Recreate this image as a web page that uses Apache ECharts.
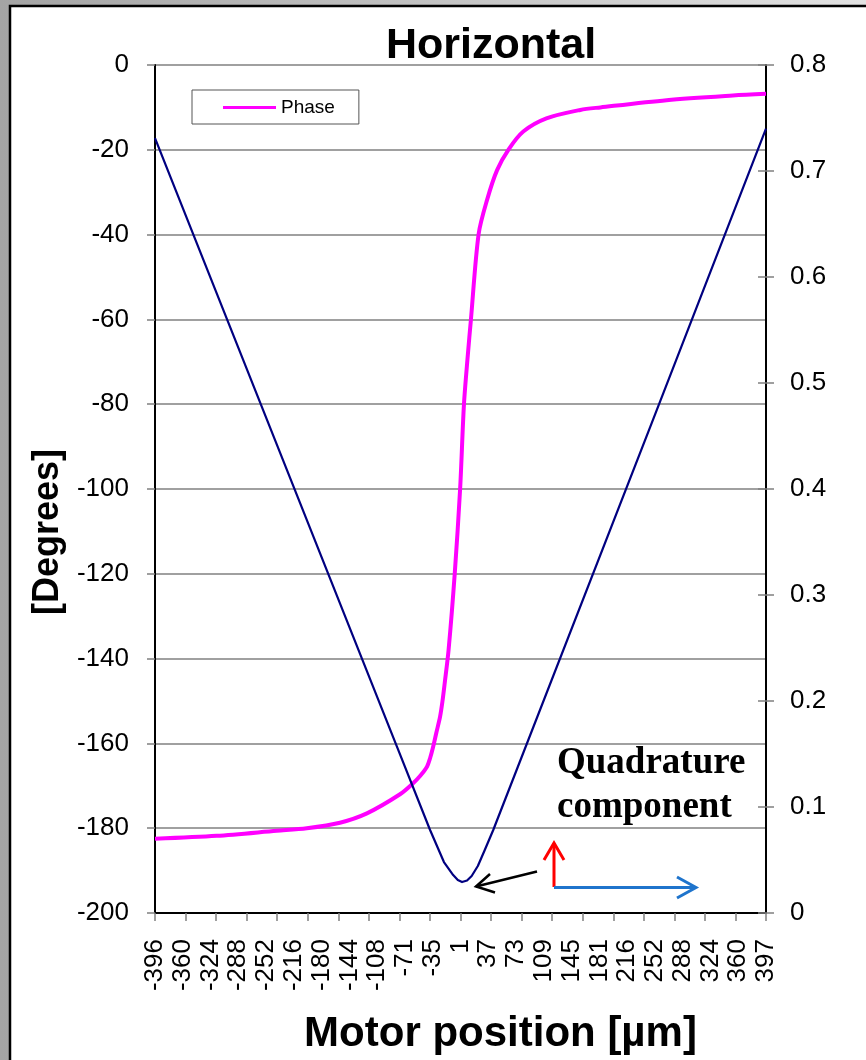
<!DOCTYPE html>
<html>
<head>
<meta charset="utf-8">
<script src="https://cdn.jsdelivr.net/npm/echarts@6/dist/echarts.min.js"></script>
<style>html,body{margin:0;padding:0;}#c{width:866px;height:1060px;}</style>
</head>
<body>
<div id="c"></div>
<script>
// x tick labels (motor position, µm)
var xTickLabels = ['-396','-360','-324','-288','-252','-216','-180','-144','-108','-71','-35','1','37','73','109','145','181','216','252','288','324','360','397'];
// Phase series (degrees, left axis)
var phaseX = [-396,-316,-238,-199,-156,-121,-78,-61,-52,-43,-39,-35,-31,-26,-23,-20,-15,-7,0,5,10,14,24,35,48,63,82,112,156,182,268,354,397];
var phaseY = [-182.5,-181.8,-180.6,-180.0,-178.7,-176.5,-172.0,-169.4,-167.7,-165.5,-163.5,-160.8,-157.6,-153.7,-150.2,-145.8,-138,-120.0,-100,-80,-68.4,-60.1,-39.9,-31.8,-24.8,-19.9,-15.7,-12.6,-10.6,-10.0,-8.3,-7.2,-6.8];
// Quadrature component (right axis)
var quadX = [-396,-82,-39,-21,-9,-3,2.5,9,15,23,32,43,247,397];
var quadY = [0.731,0.157,0.0783,0.0481,0.0358,0.0311,0.0292,0.0307,0.0349,0.0443,0.0594,0.0783,0.459,0.740];
// axis ranges
var leftTicks = {min:-200, max:0, step:20};
var rightTicks = {min:0, max:0.8, step:0.1};

function pairs(xs, ys){ return xs.map(function(x,i){ return [x, ys[i]]; }); }

var chart = echarts.init(document.getElementById('c'));
var SANS = 'Liberation Sans, Arial, sans-serif';
var SERIF = 'Liberation Serif, Times New Roman, serif';

chart.setOption({
  animation: false,
  backgroundColor: {type:'linear', x:0, y:0, x2:1, y2:0, colorStops:[{offset:0,color:'#a4a4a4'},{offset:1,color:'#e2e2e2'}]},
  title: {
    text: 'Horizontal', left: 386, top: 25, padding: 0,
    textStyle: {fontFamily: SANS, fontWeight: 'bold', fontSize: 43, color: '#000'}
  },
  legend: {
    data: [{name:'Phase', icon:'rect'}],
    left: 192, top: 90,
    padding: [8, 24, 7, 31],
    itemWidth: 53, itemHeight: 3, itemGap: 5,
    borderColor: '#555', borderWidth: 1, backgroundColor: '#fff',
    textStyle: {fontFamily: SANS, fontSize: 19, color: '#000'}
  },
  grid: {left: 155, right: 100, top: 65, bottom: 147, containLabel: false},
  xAxis: [
    { // label axis
      type: 'value', min: 0, max: xTickLabels.length - 1, interval: 1, position: 'bottom',
      axisLine: {show: true, onZero: false, lineStyle: {color: '#000', width: 2}},
      axisTick: {show: false}, splitLine: {show: false},
      axisLabel: {rotate: 90, margin: 26, fontFamily: SANS, fontSize: 26, color: '#000',
        formatter: function(v){ return xTickLabels[Math.round(v)] || ''; }},
      name: 'Motor position [µm]', nameLocation: 'middle', nameGap: 100,
      nameTextStyle: {fontFamily: SANS, fontWeight: 'bold', fontSize: 42, color: '#000', padding: [0, 0, 0, 80]}
    },
    { // tick axis
      type: 'value', min: 0, max: 20, interval: 1, position: 'bottom',
      axisLine: {show: false, onZero: false}, axisLabel: {show: false}, splitLine: {show: false},
      axisTick: {show: true, length: 8, lineStyle: {color: '#808080', width: 1.5}}
    },
    { // data axis
      type: 'value', min: -396, max: 397, show: false, position: 'top',
      axisLine: {onZero: false}
    }
  ],
  yAxis: [
    {
      type: 'value', min: leftTicks.min, max: leftTicks.max, interval: leftTicks.step, position: 'left',
      axisLine: {show: true, onZero: false, lineStyle: {color: '#000', width: 2}},
      axisTick: {show: true, length: 8, lineStyle: {color: '#808080', width: 1.5}},
      splitLine: {show: true, lineStyle: {color: '#808080', width: 1.5}},
      axisLabel: {margin: 26, fontFamily: SANS, fontSize: 26, color: '#000'},
      name: '[Degrees]', nameLocation: 'middle', nameRotate: 90, nameGap: 83,
      nameTextStyle: {fontFamily: SANS, fontWeight: 'bold', fontSize: 36, color: '#000', padding: [0, 86, 0, 0]}
    },
    {
      type: 'value', min: rightTicks.min, max: rightTicks.max, interval: rightTicks.step, position: 'right',
      axisLine: {show: true, onZero: false, lineStyle: {color: '#000', width: 2}},
      axisTick: {show: true, length: 8, lineStyle: {color: '#808080', width: 1.5}},
      splitLine: {show: false},
      axisLabel: {margin: 24, fontFamily: SANS, fontSize: 26, color: '#000',
        formatter: function(v){ return (Math.round(v*10)/10).toString(); }}
    },
    {
      type: 'value', min: rightTicks.min, max: rightTicks.max, interval: rightTicks.step, position: 'right',
      axisLine: {show: false, onZero: false}, axisLabel: {show: false}, splitLine: {show: false},
      axisTick: {show: true, inside: true, length: 8, lineStyle: {color: '#808080', width: 1.5}}
    }
  ],
  series: [
    {
      name: 'Phase', type: 'line', xAxisIndex: 2, yAxisIndex: 0,
      data: pairs(phaseX, phaseY), symbol: 'none', smooth: 0.3,
      lineStyle: {color: '#ff00ff', width: 4}, itemStyle: {color: '#ff00ff'}, z: 3
    },
    {
      name: 'Quadrature', type: 'line', xAxisIndex: 2, yAxisIndex: 1,
      data: pairs(quadX, quadY), symbol: 'none', smooth: false,
      lineStyle: {color: '#000080', width: 2.2, join: 'round'}, itemStyle: {color: '#000080'}, z: 4
    }
  ],
  graphic: [
    {type: 'rect', z: -100, shape: {x: 10, y: 6, width: 900, height: 1100},
      style: {fill: '#fff', stroke: '#000', lineWidth: 2.5}},
    {type: 'text', z: 10, left: 557, top: 741,
      style: {text: 'Quadrature\ncomponent', font: 'bold 37px ' + SERIF, fill: '#000', lineHeight: 44}},
    // red arrow
    {type: 'polyline', z: 10, shape: {points: [[554, 887], [554, 843]]}, style: {stroke: '#ff0000', lineWidth: 3, fill: null}},
    {type: 'polyline', z: 10, shape: {points: [[544, 860], [554, 843], [564, 860]]}, style: {stroke: '#ff0000', lineWidth: 3, fill: null}},
    // blue arrow
    {type: 'polyline', z: 10, shape: {points: [[554, 887.5], [696, 887.5]]}, style: {stroke: '#1f74cc', lineWidth: 3, fill: null}},
    {type: 'polyline', z: 10, shape: {points: [[677, 877], [696, 887.5], [677, 898]]}, style: {stroke: '#1f74cc', lineWidth: 3, fill: null}},
    // black arrow
    {type: 'polyline', z: 10, shape: {points: [[537, 871.5], [476, 886.5]]}, style: {stroke: '#000', lineWidth: 2.5, fill: null}},
    {type: 'polyline', z: 10, shape: {points: [[490, 874], [476, 886.5], [495, 892.5]]}, style: {stroke: '#000', lineWidth: 2.5, fill: null}}
  ]
});
</script>
</body>
</html>
